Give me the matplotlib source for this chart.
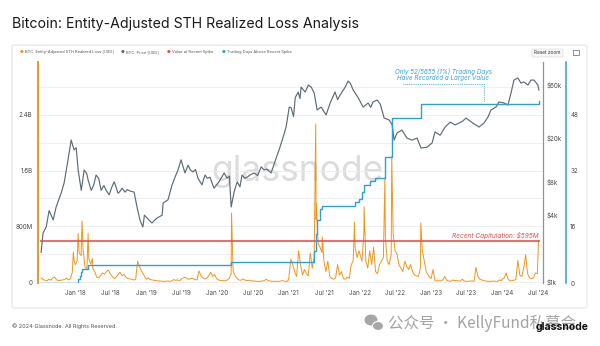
import matplotlib
matplotlib.use('Agg')
import matplotlib.pyplot as plt
import matplotlib.dates as mdates
import numpy as np
import pandas as pd
from matplotlib.patches import FancyBboxPatch, Rectangle, Ellipse

plt.rcParams['font.family'] = ['Inter', 'DejaVu Sans']

ORANGE = '#f7931a'
PRICE_GREY = '#5d6c74'
RED = '#ec4c4f'
BLUE = '#2f9fd8'
TICK_GREY = '#4a4a4a'

# STH realized loss in $M, one value every 10 days from Jan 1 of each year
loss_2017 = [60, 35, 25, 20, 40, 25, 60, 70, 30, 20, 25, 30, 35, 55, 30, 45, 140, 300]  # from Jul 10
loss_2018 = [250, 300, 420, 380, 480, 220, 180, 330, 260, 200, 150, 70, 60, 90, 130, 110, 150, 170, 120,
             80, 50, 70, 110, 140, 90, 110, 70, 50, 45, 40, 30, 35, 300, 220, 160, 110, 60]
loss_2019 = [40, 60, 35, 30, 25, 20, 15, 15, 10, 10, 10, 15, 10, 15, 35, 25, 30, 20, 45,
             60, 70, 45, 40, 55, 50, 35, 30, 160, 90, 60, 45, 55, 90, 140, 80, 110, 50]
loss_2020 = [40, 25, 20, 20, 15, 30, 50, 120, 160, 90, 50, 30, 25, 45, 30, 20, 25, 20, 15,
             15, 10, 10, 10, 15, 20, 40, 20, 15, 10, 10, 10, 10, 10, 20, 15, 10, 10]
loss_2021 = [60, 330, 250, 150, 80, 450, 250, 100, 180, 120, 90, 420, 200, 350, 900, 550, 500, 420, 300,
             150, 300, 80, 50, 40, 60, 250, 100, 150, 50, 40, 70, 50, 250, 300, 500, 350, 450]
loss_2022 = [400, 300, 700, 300, 200, 450, 250, 500, 150, 120, 250, 300, 350, 650, 300, 250, 400, 700, 450,
             400, 250, 200, 150, 300, 220, 180, 250, 150, 100, 90, 80, 200, 450, 300, 150, 100, 60]
loss_2023 = [50, 180, 15, 15, 20, 15, 30, 80, 25, 15, 10, 30, 20, 25, 15, 15, 40, 15, 10,
             10, 15, 15, 10, 210, 80, 40, 30, 20, 15, 10, 10, 10, 15, 10, 10, 30, 20]
loss_2024 = [40, 60, 130, 40, 15, 20, 25, 40, 310, 100, 80, 200, 390, 120, 60, 50, 60, 130, 120]

# capitulation days
spike_dates = ['2017-12-22', '2018-01-16', '2018-02-05', '2018-03-08', '2018-03-30', '2020-03-13',
               '2021-05-19', '2021-05-23', '2021-06-22', '2021-12-04', '2022-01-22', '2022-05-09',
               '2022-06-13', '2022-06-18', '2022-11-09', '2024-07-05']
spike_values = [430, 700, 880, 700, 340, 990, 2270, 1130, 650, 860, 1080, 1500, 1800, 1000, 850, 595]

# BTC price, $k
price_dates = ['2017-07-10', '2017-07-20', '2017-08-05', '2017-08-20', '2017-09-10', '2017-09-25',
               '2017-10-21', '2017-11-05', '2017-11-25', '2017-12-11', '2017-12-26', '2018-01-06',
               '2018-01-16', '2018-02-01', '2018-02-16', '2018-03-01', '2018-03-08', '2018-03-24',
               '2018-04-05', '2018-04-18', '2018-05-01', '2018-05-14', '2018-05-28', '2018-06-09',
               '2018-06-24', '2018-07-07', '2018-07-20', '2018-08-09', '2018-08-20', '2018-08-29',
               '2018-09-14', '2018-09-25', '2018-10-09', '2018-10-30', '2018-11-14', '2018-11-29',
               '2018-12-14', '2018-12-22', '2019-01-05', '2019-01-15', '2019-01-30', '2019-02-12',
               '2019-02-25', '2019-03-23', '2019-03-28', '2019-04-22', '2019-05-13', '2019-05-28',
               '2019-06-12', '2019-06-28', '2019-07-08', '2019-07-18', '2019-08-03', '2019-08-15',
               '2019-08-28', '2019-09-10', '2019-09-23', '2019-10-13', '2019-10-29', '2019-11-10',
               '2019-11-23', '2019-12-14', '2020-01-09', '2020-02-04', '2020-02-19', '2020-03-02',
               '2020-03-11', '2020-03-26', '2020-04-11', '2020-04-25', '2020-05-06', '2020-05-20',
               '2020-06-01', '2020-06-20', '2020-07-07', '2020-07-25', '2020-08-12', '2020-08-27',
               '2020-09-10', '2020-10-02', '2020-10-28', '2020-11-12', '2020-11-28', '2020-12-18',
               '2021-01-03', '2021-01-13', '2021-01-25', '2021-02-03', '2021-02-18', '2021-02-27',
               '2021-03-05', '2021-03-26', '2021-04-11', '2021-04-26', '2021-05-11', '2021-05-26',
               '2021-06-16', '2021-07-11', '2021-08-01', '2021-08-26', '2021-09-08', '2021-09-21',
               '2021-10-17', '2021-11-01', '2021-11-12', '2021-11-27', '2021-12-22', '2022-01-17',
               '2022-02-12', '2022-02-25', '2022-03-09', '2022-03-30', '2022-04-15', '2022-05-05',
               '2022-05-31', '2022-06-15', '2022-06-25', '2022-07-10', '2022-08-04', '2022-08-30',
               '2022-09-25', '2022-10-21', '2022-11-10', '2022-12-11', '2023-01-06', '2023-01-21',
               '2023-02-16', '2023-03-14', '2023-04-09', '2023-05-04', '2023-06-10', '2023-06-29',
               '2023-08-04', '2023-09-04', '2023-09-29', '2023-10-20', '2023-11-04', '2023-11-30',
               '2023-12-15', '2024-01-10', '2024-01-30', '2024-02-15', '2024-03-01', '2024-03-21',
               '2024-04-06', '2024-04-21', '2024-05-12', '2024-05-27', '2024-06-12', '2024-07-02',
               '2024-07-07']
price_k = [1.85, 2.76, 3.13, 4.4, 3.62, 4.74, 6.34, 7.8, 12.6, 19.0, 15.5, 16.2,
           10.2, 6.7, 10.2, 9.5, 8.3, 6.7, 7.4, 9.2, 8.6, 6.7, 7.4, 6.7,
           6.1, 7.1, 8.0, 6.3, 6.6, 7.0, 6.45, 6.8, 6.6, 6.45, 4.74, 3.62,
           3.13, 4.0, 3.77, 3.6, 3.4, 3.6, 3.77, 4.0, 5.15, 5.5, 7.5, 8.8,
           10.2, 12.6, 11.0, 9.6, 11.3, 10.2, 9.8, 10.3, 8.6, 7.5, 9.2, 8.6,
           8.8, 7.0, 8.0, 9.6, 8.6, 9.0, 4.74, 6.45, 8.0, 7.2, 9.2, 8.6,
           8.8, 9.3, 9.6, 9.1, 10.9, 10.2, 10.4, 9.6, 13.1, 15.5, 19.0, 24.9,
           37.7, 37.0, 31.0, 46.0, 51.5, 45.0, 57.0, 51.5, 59.5, 57.0, 50.5, 35.5,
           37.7, 32.0, 41.0, 51.5, 44.0, 48.4, 57.0, 64.7, 62.0, 53.7, 46.0, 37.7,
           41.0, 37.5, 41.9, 43.6, 40.0, 30.0, 28.8, 26.0, 19.0, 22.0, 23.4, 19.8,
           19.0, 19.8, 16.1, 16.4, 17.9, 22.5, 21.0, 24.9, 27.6, 26.0, 28.0, 30.0,
           27.0, 24.9, 27.0, 30.7, 35.5, 37.7, 41.9, 41.0, 39.3, 50.5, 66.0, 68.9,
           62.0, 63.4, 59.5, 66.0, 66.0, 59.5, 53.7]

# cumulative trading days above the recent spike value
days_dates = ['2017-07-10', '2018-01-16', '2018-01-26', '2018-02-02', '2018-02-05', '2018-03-08',
              '2020-03-12', '2021-05-12', '2021-05-19', '2021-05-23', '2021-05-24', '2021-06-10',
              '2021-06-22', '2021-12-04', '2021-12-28', '2022-01-10', '2022-01-22', '2022-02-20',
              '2022-03-20', '2022-05-09', '2022-06-13', '2022-11-09', '2024-07-05']
days_values = [0, 1, 2, 3, 4, 5, 6, 9, 14, 16, 18, 21, 22, 23, 24, 26, 28, 29, 30, 36, 47, 51, 52]

recent_spike = 595  # $M
total_days = 5655
tick_dates = pd.date_range('2018-01-01', '2024-07-01', freq='6MS')

loss_years = {2017: loss_2017, 2018: loss_2018, 2019: loss_2019, 2020: loss_2020,
              2021: loss_2021, 2022: loss_2022, 2023: loss_2023, 2024: loss_2024}
parts = []
for year, vals in loss_years.items():
    if year == 2017:
        idx = pd.date_range('2017-07-10', periods=len(vals), freq='10D')
    else:
        idx = pd.date_range(f'{year}-01-01', periods=len(vals), freq='10D')
    parts.append(pd.Series(vals, index=idx))
parts.append(pd.Series(spike_values, index=pd.to_datetime(spike_dates)))
loss = pd.concat(parts).sort_index()

price = pd.Series(np.array(price_k) * 1000, index=pd.to_datetime(price_dates))
days = pd.Series(days_values, index=pd.to_datetime(days_dates))

W, H = 600, 346
fig = plt.figure(figsize=(W / 100, H / 100), dpi=100)


def fx(px):
    return px / W


def fy(py):
    return 1 - py / H


# card behind the chart
card = FancyBboxPatch((fx(12), fy(308)), fx(575), 263 / H, boxstyle='round,pad=0,rounding_size=0.004',
                      transform=fig.transFigure, facecolor='white', edgecolor='#e4e4e4', linewidth=0.8,
                      zorder=-5)
fig.patches.append(card)

fig.text(fx(12), fy(24), 'Bitcoin: Entity-Adjusted STH Realized Loss Analysis', fontsize=10.2,
         color='#1a1a1a', va='center', ha='left')

ax = fig.add_axes([fx(38), fy(283), (543 - 38) / W, (283 - 62) / H])
ax.patch.set_alpha(0)
ax_price = ax.twinx()
ax_days = ax.twinx()

ax.text(0.513, 0.462, 'glassnode', transform=ax.transAxes, fontsize=25.5, color='#dcdcdc',
        ha='center', va='baseline', zorder=0.5)

ax.plot(loss.index, loss.values * 1e6, color=ORANGE, linewidth=0.7, zorder=2)
ax.plot([loss.index[0], loss.index[-1]], [recent_spike * 1e6] * 2, color=RED, linewidth=1.3,
        alpha=0.9, zorder=3)
ax.text(loss.index[-1], recent_spike * 1e6 + 25e6, f'Recent Capitulation: ${recent_spike}M',
        color=RED, fontsize=4.7, fontstyle='italic', ha='right', va='bottom', zorder=4)

ax_price.plot(price.index, price.values, color=PRICE_GREY, linewidth=0.85)
ax_days.step(days.index, days.values, where='post', color=BLUE, linewidth=1.0)

# callout for the latest count
last_days = days.values[-2]
ax_days.plot([pd.Timestamp('2022-08-11'), pd.Timestamp('2023-09-28'), pd.Timestamp('2023-09-28')],
             [56.8, 56.8, last_days + 0.5], color=BLUE, linewidth=0.6, linestyle=(0, (1, 1.2)))
ax_days.text(pd.Timestamp('2023-03-05'), 59.4,
             f'Only {days.values[-1]}/{total_days} (1%) Trading Days\nHave Recorded a Larger Value',
             color='#3aa0e0', fontsize=4.5, fontstyle='italic', ha='center', va='center', linespacing=1.1)

# axes ranges
ax.set_xlim(pd.Timestamp('2017-06-24'), pd.Timestamp('2024-07-28'))
ax.set_ylim(-14e6, 3.16e9)
ax_price.set_yscale('log')
ax_price.set_ylim(979, 96000)
ax_days.set_ylim(0, 63)

ax.set_yticks(np.arange(0, 3.2e9, 4e8))
ax.set_yticklabels(['0', '', '800M', '', '1.6B', '', '2.4B', ''])
ax.grid(axis='y', color='#ececec', linewidth=0.6)
ax.set_axisbelow(True)

ax_price.set_yticks([1000, 4000, 8000, 20000, 60000])
ax_price.set_yticklabels(['$1k', '$4k', '$8k', '$20k', '$60k'])
ax_price.minorticks_off()
ax_days.set_yticks([0, 16, 32, 48])

ax.set_xticks(tick_dates)
ax.xaxis.set_major_formatter(mdates.DateFormatter("%b '%y"))

for a in (ax, ax_price, ax_days):
    for s in a.spines.values():
        s.set_visible(False)
    a.tick_params(length=0, labelsize=4.5, labelcolor=TICK_GREY)
ax.tick_params(axis='x', pad=5)
ax.tick_params(axis='y', pad=4)
ax_price.tick_params(axis='y', pad=2.5)
ax_days.tick_params(axis='y', pad=3)

ax.spines['left'].set_visible(True)
ax.spines['left'].set_color(ORANGE)
ax.spines['left'].set_linewidth(1.4)
ax_price.spines['right'].set_visible(True)
ax_price.spines['right'].set_color('#8a959b')
ax_price.spines['right'].set_linewidth(0.9)
ax_days.spines['right'].set_visible(True)
ax_days.spines['right'].set_position(('axes', 1.0455))
ax_days.spines['right'].set_color(BLUE)
ax_days.spines['right'].set_linewidth(1.1)

# legend row
legend_items = [(22, ORANGE, 'BTC: Entity-Adjusted STH Realized Loss [USD]'),
                (123, PRICE_GREY, 'BTC: Price [USD]'),
                (169, RED, 'Value at Recent Spike'),
                (224, BLUE, 'Trading Days Above Recent Spike')]
for px, col, label in legend_items:
    fig.text(fx(px), fy(52), '\u25cf', color=col, fontsize=3.2, ha='center', va='center',
             family='DejaVu Sans')
    fig.text(fx(px + 3), fy(52), label, color='#555555', fontsize=2.9, ha='left', va='center')

reset = FancyBboxPatch((fx(532), fy(57)), 31 / W, 8 / H, boxstyle='round,pad=0,rounding_size=0.002',
                       transform=fig.transFigure, facecolor='#f7f7f7', edgecolor='#dddddd', linewidth=0.5)
fig.patches.append(reset)
fig.text(fx(547.5), fy(53), 'Reset zoom', fontsize=3.4, color='#333333', ha='center', va='center')
fig.patches.append(Rectangle((fx(573), fy(55)), 6 / W, 5 / H, transform=fig.transFigure,
                             facecolor='none', edgecolor='#666666', linewidth=0.5))

# footer
fig.text(fx(12), fy(326), '\u00a9 2024 Glassnode. All Rights Reserved.', fontsize=4.0,
         color='#555555', ha='left', va='center')
fig.patches.append(Ellipse((fx(371), fy(320)), 13 / W, 11 / H, transform=fig.transFigure,
                           facecolor='#a6a6a6', edgecolor='none'))
fig.patches.append(Ellipse((fx(378), fy(326)), 11 / W, 9 / H, transform=fig.transFigure,
                           facecolor='#a6a6a6', edgecolor='white', linewidth=0.8))
fig.text(fx(388), fy(323), '公众号 · KellyFund私募会', fontsize=11.2, color='#a3a3a3', ha='left',
         va='center', family=['Noto Sans CJK SC', 'DejaVu Sans'])
fig.text(fx(588), fy(327), 'glassnode', fontsize=7.5, color='#111111', fontweight='bold',
         ha='right', va='center')

fig.savefig('out.png', dpi=100, facecolor='white')
